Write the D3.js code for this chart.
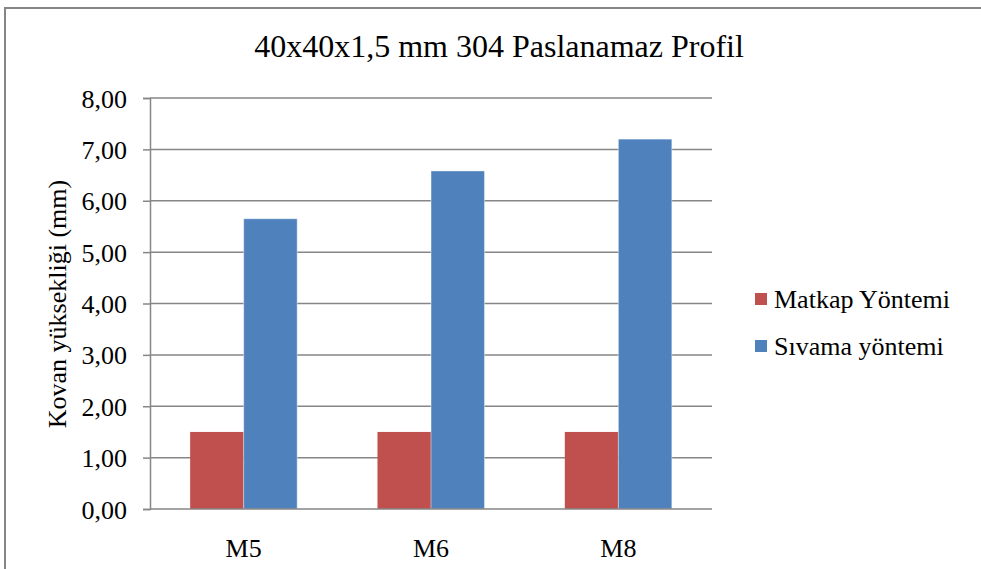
<!DOCTYPE html>
<html>
<head>
<meta charset="utf-8">
<script src="https://cdn.jsdelivr.net/npm/d3@7"></script>
<style>
  html, body { margin: 0; padding: 0; background: #fff; }
  svg { display: block; }
  svg text { font-family: "Liberation Serif", "Times New Roman", Times, serif; fill: #000; }
</style>
</head>
<body>
<svg id="chart" width="981" height="569"></svg>
<script>
// Chart data
const categories = ["M5", "M6", "M8"];
const seriesNames = ["Matkap Yöntemi", "Sıvama yöntemi"];
const matkapValues = [1.50, 1.50, 1.50];
const sivamaValues = [5.65, 6.58, 7.20];
const yTicks = [0, 1, 2, 3, 4, 5, 6, 7, 8];
const seriesColors = ["#C0504D", "#4F81BD"];

const title = "40x40x1,5 mm 304 Paslanamaz Profil";
const yTitle = "Kovan yüksekliği (mm)";

const FONT = '"Liberation Serif", "Times New Roman", Times, serif';

const svg = d3.select("#chart");
const W = 981, H = 569;

// Outer frame (runs past the right and bottom edges)
svg.append("rect")
  .attr("x", 5).attr("y", 8)
  .attr("width", W + 20).attr("height", H + 20)
  .attr("fill", "#fff")
  .attr("stroke", "#868686").attr("stroke-width", 2);

const plot = { left: 150, right: 712, top: 98, bottom: 509 };

// Category bands; each group holds two bars and a 150% gap
const x0 = d3.scaleBand()
  .domain(categories)
  .range([plot.left, plot.right])
  .padding(0);
const x1 = d3.scaleBand()
  .domain(seriesNames)
  .range([0, x0.bandwidth()])
  .paddingInner(0)
  .paddingOuter(0.75);

const y = d3.scaleLinear().domain([0, 8]).range([plot.bottom, plot.top]);

const fmt = v => v.toFixed(2).replace(".", ",");

// Horizontal gridlines
svg.append("g")
  .selectAll("line")
  .data(yTicks.filter(t => t > 0))
  .join("line")
  .attr("x1", plot.left).attr("x2", plot.right)
  .attr("y1", d => y(d)).attr("y2", d => y(d))
  .attr("stroke", "#868686").attr("stroke-width", 1.5);

// Y axis
const yAxis = d3.axisLeft(y).tickValues(yTicks).tickFormat(fmt).tickSize(7).tickPadding(16);
const gy = svg.append("g").attr("transform", `translate(${plot.left},0)`).call(yAxis);
gy.attr("font-family", FONT);
gy.select(".domain").attr("stroke", "#868686").attr("stroke-width", 1.5);
gy.selectAll(".tick line").attr("stroke", "#868686").attr("stroke-width", 1.5);
gy.selectAll(".tick text")
  .attr("font-size", 26).attr("fill", "#000").attr("dy", "0.35em");

// Bars
const seriesData = [matkapValues, sivamaValues];
seriesData.forEach((vals, si) => {
  svg.append("g")
    .selectAll("rect")
    .data(categories.map((c, i) => ({ c, v: vals[i] })))
    .join("rect")
    .attr("x", d => x0(d.c) + x1(seriesNames[si]))
    .attr("width", x1.bandwidth())
    .attr("y", d => y(d.v))
    .attr("height", d => y(0) - y(d.v))
    .attr("fill", seriesColors[si])
    .attr("stroke", si === 1 ? "rgba(255,255,255,0.45)" : "none")
    .attr("stroke-width", 1);
});

// X axis baseline and category labels
svg.append("line")
  .attr("x1", plot.left).attr("x2", plot.right)
  .attr("y1", y(0)).attr("y2", y(0))
  .attr("stroke", "#868686").attr("stroke-width", 1.5);

svg.append("g")
  .selectAll("text")
  .data(categories)
  .join("text")
  .attr("x", d => x0(d) + x0.bandwidth() / 2)
  .attr("y", 557)
  .attr("text-anchor", "middle")
  .attr("font-size", 26)
  .text(d => d);

// Title
svg.append("text")
  .attr("x", 499).attr("y", 57)
  .attr("text-anchor", "middle")
  .attr("font-size", 32)
  .text(title);

// Y axis title
svg.append("text")
  .attr("transform", `translate(66,304) rotate(-90)`)
  .attr("text-anchor", "middle")
  .attr("font-size", 26)
  .text(yTitle);

// Legend
const legend = svg.append("g");
seriesNames.forEach((name, i) => {
  const ly = 299 + i * 47;
  legend.append("rect")
    .attr("x", 755).attr("y", ly - 6)
    .attr("width", 12).attr("height", 12)
    .attr("fill", seriesColors[i]);
  legend.append("text")
    .attr("x", 774).attr("y", ly + 9)
    .attr("font-size", 26)
    .text(name);
});
</script>
</body>
</html>
